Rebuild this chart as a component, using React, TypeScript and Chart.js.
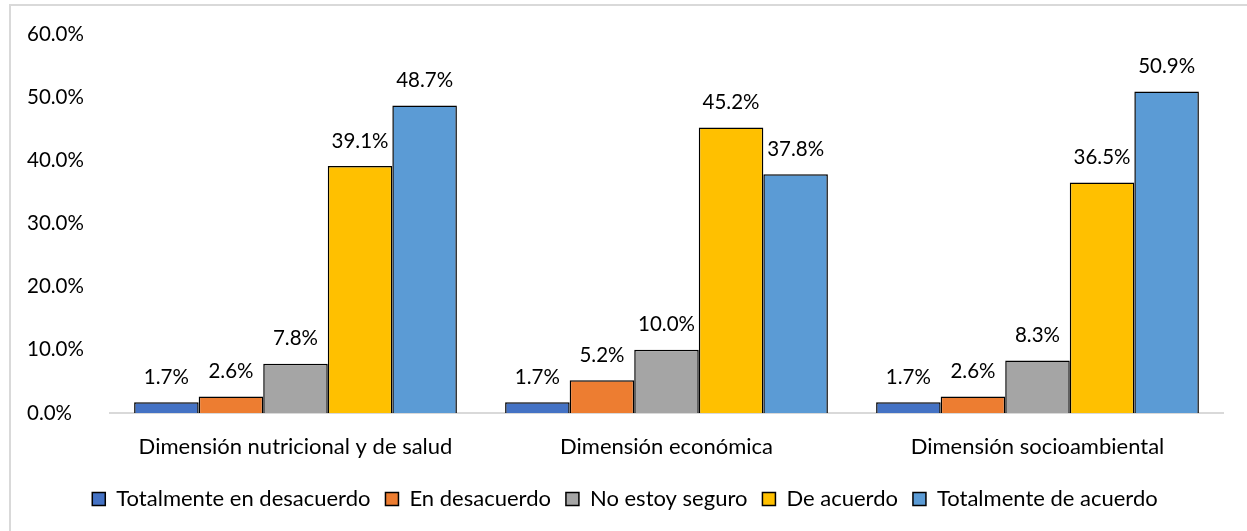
import React, { useEffect, useRef } from "react";
import { Chart, registerables } from "chart.js";

Chart.register(...registerables);

const categories = [
  "Dimensión nutricional y de salud",
  "Dimensión económica",
  "Dimensión socioambiental",
];
const seriesNames = [
  "Totalmente en desacuerdo",
  "En desacuerdo",
  "No estoy seguro",
  "De acuerdo",
  "Totalmente de acuerdo",
];
const totalmenteEnDesacuerdo = [1.7, 1.7, 1.7];
const enDesacuerdo = [2.6, 5.2, 2.6];
const noEstoySeguro = [7.8, 10.0, 8.3];
const deAcuerdo = [39.1, 45.2, 36.5];
const totalmenteDeAcuerdo = [48.7, 37.8, 50.9];
const yTicks = [0, 10, 20, 30, 40, 50, 60];

const colors = ["#4472C4", "#ED7D31", "#A5A5A5", "#FFC000", "#5B9BD5"];
const FONT = "Lato, 'Open Sans', sans-serif";

const valueLabels = {
  id: "valueLabels",
  afterDatasetsDraw(chart: any) {
    const ctx = chart.ctx;
    ctx.save();
    ctx.font = `20.5px ${FONT}`;
    ctx.fillStyle = "#000";
    ctx.textAlign = "center";
    ctx.textBaseline = "middle";
    chart.data.datasets.forEach((ds: any, i: number) => {
      const meta = chart.getDatasetMeta(i);
      meta.data.forEach((bar: any, j: number) => {
        const v = ds.data[j];
        ctx.fillText(v.toFixed(1) + "%", bar.x, bar.y - 25);
      });
    });
    ctx.restore();
  },
};

export default function App() {
  const ref = useRef<HTMLCanvasElement>(null);
  useEffect(() => {
    const values = [
      totalmenteEnDesacuerdo,
      enDesacuerdo,
      noEstoySeguro,
      deAcuerdo,
      totalmenteDeAcuerdo,
    ];
    const chart = new Chart(ref.current!, {
      type: "bar",
      data: {
        labels: categories,
        datasets: seriesNames.map((name, i) => ({
          label: name,
          data: values[i],
          backgroundColor: colors[i],
          borderColor: "#000",
          borderWidth: 1.5,
          categoryPercentage: 0.87,
          barPercentage: 1,
        })),
      },
      options: {
        animation: false,
        responsive: false,
        devicePixelRatio: 1,
        layout: { padding: { left: 27, right: 24, top: 34, bottom: 11 } },
        plugins: {
          tooltip: { enabled: false },
          legend: {
            position: "bottom",
            labels: {
              font: { family: FONT, size: 22 },
              color: "#000",
              boxWidth: 13,
              boxHeight: 13,
              padding: 15,
            },
          },
        },
        scales: {
          x: {
            grid: { display: false },
            border: { color: "#d9d9d9", width: 2 },
            ticks: {
              font: { family: FONT, size: 22 },
              color: "#000",
              padding: 13,
            },
            afterFit(scale: any) {
              scale.height = 60;
            },
          },
          y: {
            min: 0,
            max: 60,
            afterBuildTicks(scale: any) {
              scale.ticks = yTicks.map((v) => ({ value: v }));
            },
            grid: { display: false },
            border: { display: false },
            ticks: {
              font: { family: FONT, size: 20.5 },
              color: "#000",
              crossAlign: "far",
              callback: (v: any) => Number(v).toFixed(1) + "%",
            },
            afterFit(scale: any) {
              scale.width = 83;
            },
          },
        },
      },
      plugins: [valueLabels],
    });
    return () => chart.destroy();
  }, []);

  return (
    <div style={{ position: "absolute", left: 0, top: 0, width: 1247, height: 531, background: "#fff" }}>
      <div
        style={{
          position: "absolute",
          left: 9,
          top: 4,
          right: 0,
          bottom: 0,
          borderTop: "2px solid #d9d9d9",
          borderLeft: "2px solid #d9d9d9",
        }}
      />
      <canvas ref={ref} width={1247} height={531} style={{ position: "absolute", left: 0, top: 0 }} />
    </div>
  );
}
